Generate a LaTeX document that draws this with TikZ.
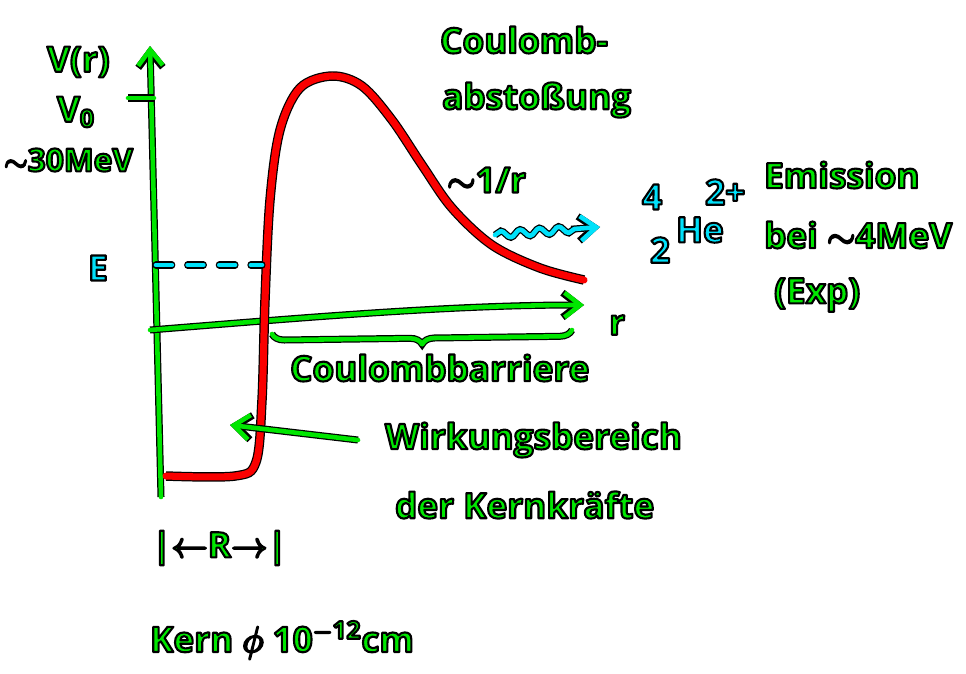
\documentclass[tikz,border=0pt]{standalone}
\usepackage{fontspec}
\setmainfont{Open Sans}
\usetikzlibrary{arrows.meta,decorations.pathmorphing,decorations.pathreplacing}
\definecolor{hgreen}{RGB}{0,230,0}
\definecolor{hred}{RGB}{250,0,0}
\definecolor{hcyan}{RGB}{0,225,250}
\tikzset{
  pen/.style={draw=hgreen, line width=2.6pt, line cap=round, line join=round,
    preaction={draw=black, line width=4pt}},
  redpen/.style={draw=hred, line width=4pt, line cap=round, line join=round,
    preaction={draw=black, line width=5.4pt}},
  cyanpen/.style={draw=hcyan, line width=2.6pt, line cap=round, line join=round,
    preaction={draw=black, line width=4pt}},
  dashpen/.style={draw=hcyan, line width=2.6pt, line cap=round, dash pattern=on 9pt off 9pt,
    preaction={draw=black, line width=4pt, line cap=round, dash pattern=on 9pt off 9pt}},
  barb/.style={-{Straight Barb[length=9pt,width=14pt]}},
  hand/.style={font=\fontsize{20}{24}\selectfont\bfseries, text=hgreen, inner sep=1pt},
  cyanhand/.style={hand, text=hcyan}
}
\newcommand{\outl}[1]{\special{pdf:literal direct 2 Tr 1.2 w 1 j 0 0 0 RG}#1\special{pdf:literal direct 0 Tr}}
\newcommand{\gtext}[4]{\node[hand,anchor=west] (#1) at (#2,#3) {\outl{#4}};}
\newcommand{\ctext}[4]{\node[cyanhand,anchor=west] (#1) at (#2,#3) {\outl{#4}};}

\begin{document}
\begin{tikzpicture}[x=0.02cm,y=-0.02cm]
\useasboundingbox (0,0) rectangle (966,673);
% ---- axes
\coordinate (ybot) at (161,497);
\coordinate (ytop) at (150,46);
\coordinate (orig) at (150,330);
\coordinate (rend) at (584,305);
\coordinate (vtick) at (128,98);
\coordinate (vaxis) at (154,98);
\draw[pen,barb] (ybot) -- (ytop);
\draw[pen] (vtick) -- (vaxis);
\draw[pen,barb] (orig) .. controls (300,318) and (450,305) .. (rend);

% ---- potential
\draw[redpen] plot[smooth,tension=0.55] coordinates {(166,476) (235,476) (256,462)
  (262,400) (265,300) (270,200) (280,130) (300,88) (332,76) (362,86) (392,120)
  (422,165) (452,208) (492,245) (540,268) (584,280)};

% ---- energy level
\coordinate (eaxis) at (156,265);
\coordinate (ewall) at (262,265);
\draw[dashpen] (eaxis) -- (ewall);

% ---- brace under r axis
\coordinate (bl) at (272,334);
\coordinate (br) at (572,330);
\draw[pen,decorate,decoration={brace,amplitude=7pt,mirror}] (bl) -- (br);

% ---- alpha emission
\coordinate (wstart) at (495,235);
\coordinate (wend) at (600,227);
\draw[cyanpen,barb,decorate,decoration={snake,amplitude=2pt,segment length=11pt,post length=10pt}]
  (wstart) -- (wend);

% ---- pointer to nuclear range
\coordinate (wfrom) at (358,440);
\coordinate (wto) at (230,425);
\draw[pen,barb] (wfrom) -- (wto);

% ---- labels
\gtext{vr}{45}{62}{V(r)}
\gtext{vnull}{55}{112}{V\textsubscript{0}}
\gtext{vmev}{2}{160}{\fontsize{18}{22}\selectfont$\sim$30MeV}
\ctext{elev}{86}{268}{E}
\gtext{coul1}{438}{40}{Coulomb-}
\gtext{coul2}{440}{100}{abstoßung}
\gtext{oner}{445}{180}{$\sim$1/r}
\ctext{heA}{640}{197}{4}
\ctext{heZ}{648}{250}{2}
\ctext{heSym}{674}{230}{He}
\ctext{heQ}{703}{192}{2+}
\gtext{emis1}{762}{175}{Emission}
\gtext{emis2}{762}{235}{bei $\sim$4MeV}
\gtext{emis3}{772}{295}{(Exp)}
\gtext{rlab}{607}{325}{r}
\gtext{barr}{288}{368}{Coulombbarriere}
\gtext{wirk1}{383}{440}{Wirkungsbereich}
\gtext{wirk2}{393}{505}{der Kernkräfte}
\gtext{rad}{150}{548}{|$\leftarrow$R$\rightarrow$|}
\gtext{kern}{148}{640}{Kern $\phi$ 10\textsuperscript{$-$12}cm}
\end{tikzpicture}
\end{document}
